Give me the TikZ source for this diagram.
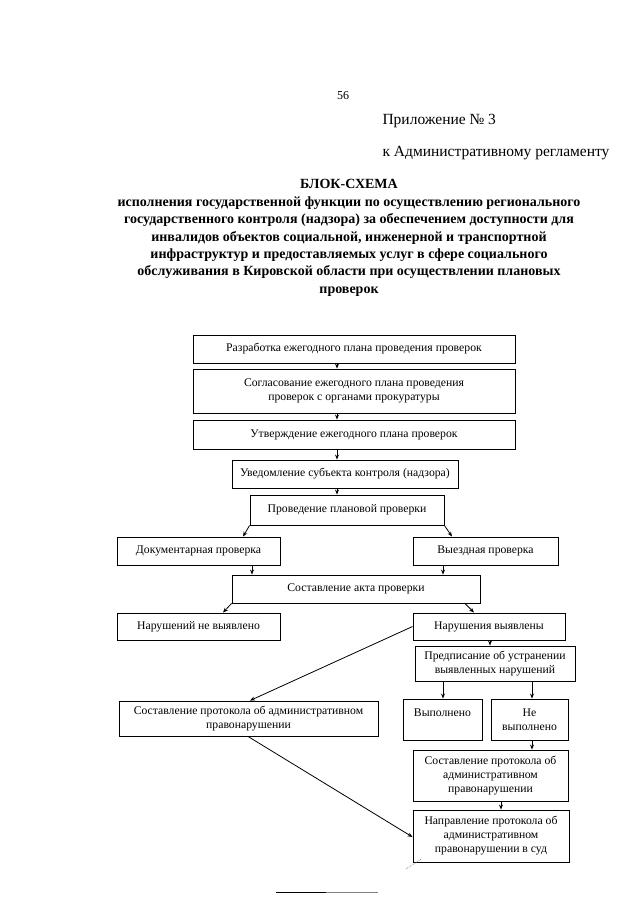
\documentclass[tikz,border=0pt]{standalone}
\usepackage{fontspec}
\setmainfont{Liberation Serif}
\usetikzlibrary{arrows.meta}
\tikzset{
  box/.style={draw=black, line width=0.9pt, inner sep=1pt, align=center, font=\fontsize{11.7}{14}\selectfont},
  arr/.style={draw=black, line width=0.8pt, -{Stealth[length=5pt,width=4pt]}},
  ttl/.style={font=\fontsize{14}{17.4}\selectfont\bfseries, align=center},
  hdr/.style={font=\fontsize{15.5}{17}\selectfont, anchor=west}
}
\begin{document}
\begin{tikzpicture}[x=1pt,y=-1pt]
\useasboundingbox[fill=white] (0,0) rectangle (640,905);
% header
\node[font=\fontsize{12}{14}\selectfont] (pg) at (343,96) {56};
\node[hdr] (pr) at (379,121) {Приложение № 3};
\node[hdr] (rg) at (379,153) {к Административному регламенту};
\node[ttl] (bs) at (349,184) {БЛОК-СХЕМА};
\node[ttl, anchor=north] (tt) at (349,193) {исполнения государственной функции по осуществлению регионального\\
государственного контроля (надзора) за обеспечением доступности для\\
инвалидов объектов социальной, инженерной и транспортной\\
инфраструктур и предоставляемых услуг в сфере социального\\
обслуживания в Кировской области при осуществлении плановых\\
проверок};
% boxes
\node[box, minimum width=322, minimum height=28] (b1) at (354,349) {Разработка ежегодного плана проведения проверок};
\node[box, minimum width=322, minimum height=44] (b2) at (354,391) {Согласование ежегодного плана проведения\\проверок с органами прокуратуры};
\node[box, minimum width=322, minimum height=29] (b3) at (354,434.5) {Утверждение ежегодного плана проверок};
\node[box, minimum width=226, minimum height=28] (b4) at (345,474) {Уведомление субъекта контроля (надзора)};
\node[box, minimum width=194, minimum height=30] (b5) at (347,510) {Проведение плановой проверки};
\node[box, minimum width=163, minimum height=28] (doc) at (198.5,551) {Документарная проверка};
\node[box, minimum width=145, minimum height=28] (vyez) at (485.5,551) {Выездная проверка};
\node[box, minimum width=248, minimum height=28] (akt) at (356,589) {Составление акта проверки};
\node[box, minimum width=163, minimum height=27] (net) at (198.5,626.5) {Нарушений не выявлено};
\node[box, minimum width=152, minimum height=27] (yes) at (489,626.5) {Нарушения выявлены};
\node[box, minimum width=160, minimum height=35] (pred) at (495,663.5) {Предписание об устранении\\выявленных нарушений};
\node[box, minimum width=79, minimum height=41] (vyp) at (442.5,719.5) {Выполнено\\\mbox{}};
\node[box, minimum width=77, minimum height=41] (nevyp) at (529.5,719.5) {Не\\выполнено};
\node[box, minimum width=259, minimum height=35] (lprot) at (248.5,718.5) {Составление протокола об административном\\правонарушении};
\node[box, minimum width=155, minimum height=51] (rprot) at (490.5,775.5) {Составление протокола об\\административном\\правонарушении};
\node[box, minimum width=156, minimum height=52] (sud) at (491,836) {Направление протокола об\\административном\\правонарушении в суд};
% helper coordinates
\coordinate (xa) at (337,0);
\coordinate (xd) at (252,0);
\coordinate (xv) at (443,0);
\coordinate (xy) at (490,0);
\coordinate (xp1) at (443,0);
\coordinate (xp2) at (532,0);
\coordinate (xr) at (501,0);
\coordinate (dl) at (243,0);
\coordinate (dr) at (452,0);
\coordinate (al) at (223,0);
\coordinate (ar1) at (465,0);
\coordinate (ar2) at (474,0);
\coordinate (lp) at (250,0);
\coordinate (lpb) at (248,0);
\coordinate (sd) at (0,837);
% connectors
\draw[arr] (b1.south -| xa) -- (b2.north -| xa);
\draw[arr] (b2.south -| xa) -- (b3.north -| xa);
\draw[arr] (b3.south -| xa) -- (b4.north -| xa);
\draw[arr] (b4.south -| xa) -- (b5.north -| xa);
\draw[arr] (b5.south west) -- (doc.north -| dl);
\draw[arr] (b5.south east) -- (vyez.north -| dr);
\draw[arr] (doc.south -| xd) -- (akt.north -| xd);
\draw[arr] (vyez.south -| xv) -- (akt.north -| xv);
\draw[arr] (akt.south west) -- (net.north -| al);
\draw[arr] (akt.south -| ar1) -- (yes.north -| ar2);
\draw[arr] (yes.south -| xy) -- (pred.north -| xy);
\draw[arr] (pred.south -| xp1) -- (vyp.north -| xp1);
\draw[arr] (pred.south -| xp2) -- (nevyp.north -| xp2);
\draw[arr] (nevyp.south -| xp2) -- (rprot.north -| xp2);
\draw[arr] (rprot.south -| xr) -- (sud.north -| xr);
\draw[arr] (yes.west) -- (lprot.north -| lp);
\draw[arr] (lprot.south -| lpb) -- (sud.west |- sd);
% faint artifact near bottom-left of last box
\coordinate (fa1) at (406,869);
\coordinate (fa2) at (421,859);
\draw[gray, densely dotted, line width=0.7pt] (fa1) -- (fa2);
% bottom rule
\coordinate (r1) at (276,892);
\coordinate (r2) at (326,892);
\coordinate (r3) at (378,892);
\draw[black, line width=0.9pt] (r1) -- (r2);
\draw[gray, line width=0.9pt] (r2) -- (r3);
\end{tikzpicture}
\end{document}
